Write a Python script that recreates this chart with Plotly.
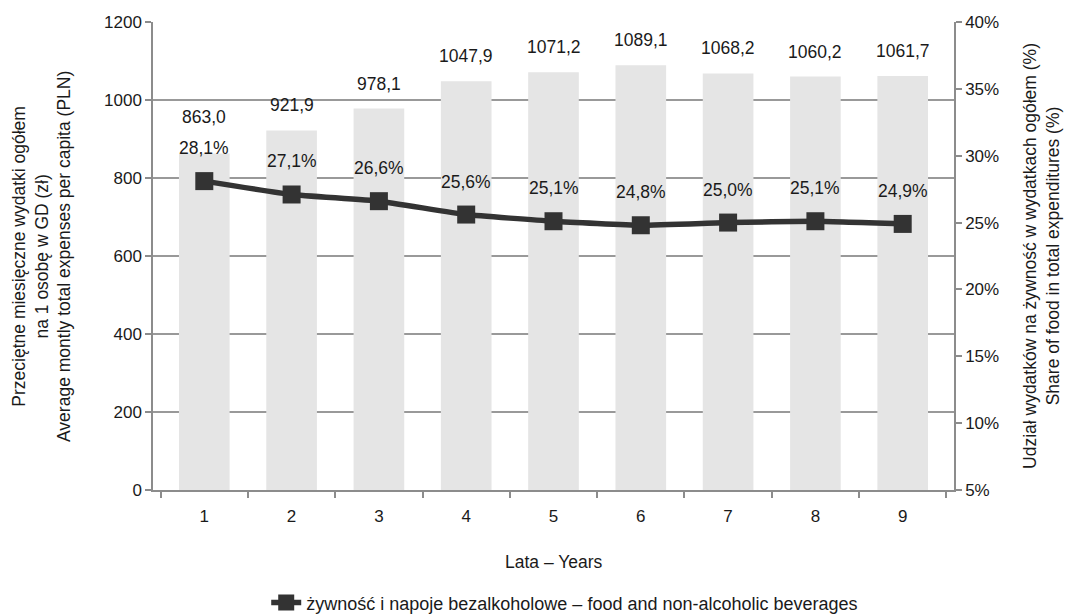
import plotly.graph_objects as go

years = ["1", "2", "3", "4", "5", "6", "7", "8", "9"]
expenses = [863.0, 921.9, 978.1, 1047.9, 1071.2, 1089.1, 1068.2, 1060.2, 1061.7]
food_share = [28.1, 27.1, 26.6, 25.6, 25.1, 24.8, 25.0, 25.1, 24.9]
left_ticks = [0, 200, 400, 600, 800, 1000, 1200]
right_ticks = [5, 10, 15, 20, 25, 30, 35, 40]

FONT = "Liberation Sans, Arial, sans-serif"
TXT = "#1a1a1a"
AXC = "#8c8c8c"
FS = 17


def pl(v, pct=False):
    s = f"{v:.1f}".replace(".", ",")
    return s + "%" if pct else s


fig = go.Figure()
fig.add_trace(go.Bar(
    x=years, y=expenses, marker=dict(color="#e5e5e5", line=dict(width=0)),
    showlegend=False, hoverinfo="skip", yaxis="y"))
fig.add_trace(go.Scatter(
    x=years, y=food_share, yaxis="y2", mode="lines+markers",
    name="żywność i napoje bezalkoholowe – food and non-alcoholic beverages",
    line=dict(color="#333333", width=5.5, shape="spline", smoothing=0.4),
    marker=dict(symbol="square", size=18, color="#333333")))

annotations = []
for i, v in enumerate(expenses):
    annotations.append(dict(x=i, y=v, xref="x", yref="y", text=pl(v),
                            showarrow=False, yshift=36 if i == 0 else 25,
                            font=dict(family=FONT, size=17.5, color=TXT)))
for i, v in enumerate(food_share):
    annotations.append(dict(x=i, y=v, xref="x", yref="y2", text=pl(v, True),
                            showarrow=False, yshift=33,
                            font=dict(family=FONT, size=17.5, color=TXT)))

# axis titles
annotations.append(dict(
    x=-0.1386, y=0.5, xref="paper", yref="paper", textangle=-90,
    showarrow=False, xanchor="center", yanchor="middle",
    text="Przeciętne miesięczne wydatki ogółem<br>na 1 osobę w GD (zł)<br>Average montly total expenses per capita (PLN)",
    font=dict(family=FONT, size=17.5, color=TXT)))
annotations.append(dict(
    x=1.1086, y=0.5, xref="paper", yref="paper", textangle=-90,
    showarrow=False, xanchor="center", yanchor="middle",
    text="Udział wydatków na żywność w wydatkach ogółem (%)<br>Share of food in total expenditures (%)",
    font=dict(family=FONT, size=17.5, color=TXT)))
annotations.append(dict(
    x=0.5, y=-0.154, xref="paper", yref="paper",
    showarrow=False, xanchor="center", yanchor="middle",
    text="Lata – Years", font=dict(family=FONT, size=17.5, color=TXT)))

fig.update_layout(
    width=1065, height=614,
    paper_bgcolor="white", plot_bgcolor="white",
    margin=dict(l=153, r=111, t=22, b=124, autoexpand=False),
    font=dict(family=FONT, size=FS, color=TXT),
    bargap=0.42,
    annotations=annotations,
    xaxis=dict(type="category", tickson="boundaries", ticks="outside",
               ticklen=6, tickcolor=AXC, tickwidth=1.5,
               showline=True, linecolor=AXC, linewidth=1.5,
               showgrid=False, zeroline=False, ticklabelstandoff=10,
               tickfont=dict(size=FS)),
    yaxis=dict(range=[0, 1200], tickvals=left_ticks, ticks="outside",
               ticklen=6, tickcolor=AXC, tickwidth=1.5,
               showline=True, linecolor=AXC, linewidth=1.5,
               showgrid=True, gridcolor="#999999", gridwidth=1.5,
               zeroline=False, tickfont=dict(size=FS)),
    yaxis2=dict(range=[5, 40], tickvals=right_ticks,
                ticktext=[f"{t}%" for t in right_ticks],
                overlaying="y", side="right", ticks="outside",
                ticklen=6, tickcolor=AXC, tickwidth=1.5,
                showline=True, linecolor=AXC, linewidth=1.5,
                showgrid=False, zeroline=False, tickfont=dict(size=FS)),
    legend=dict(orientation="h", x=0.514, xanchor="center", y=-0.241,
                yanchor="middle", font=dict(size=18)),
)

fig.write_html("out.html", config={"displayModeBar": False},
               post_script="document.body.style.margin='0';document.body.style.overflow='hidden';")
